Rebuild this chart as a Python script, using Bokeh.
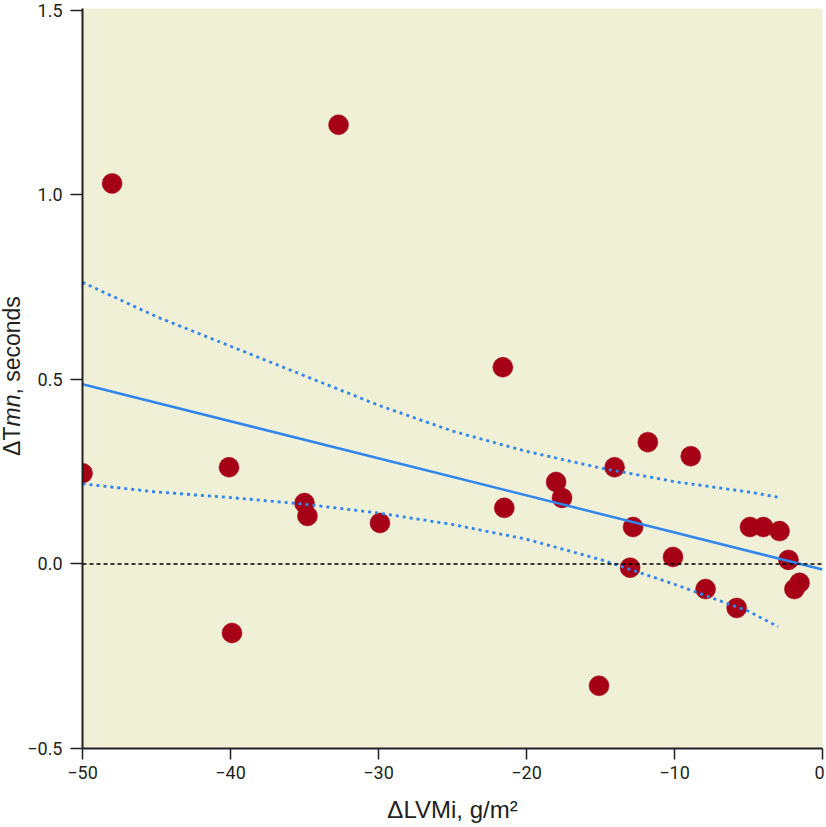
import math
from bokeh.plotting import figure
from bokeh.layouts import row
from bokeh.models import Span, FixedTicker
from bokeh.core.properties import value
from bokeh.embed import file_html
from bokeh.resources import INLINE

# ---- data ----
lvmi = [-50.0, -48.0, -32.7, -40.1, -39.9, -35.0, -34.8, -29.9, -21.6, -21.5,
        -18.0, -17.6, -14.05, -15.1, -11.8, -12.8, -13.0, -8.9, -10.1, -7.9,
        -5.8, -4.9, -4.0, -2.9, -2.3, -1.55, -1.9]
tmn = [0.246, 1.031, 1.19, 0.262, -0.187, 0.165, 0.130, 0.111, 0.533, 0.152,
       0.222, 0.179, 0.262, -0.330, 0.330, 0.100, -0.010, 0.292, 0.019, -0.068,
       -0.119, 0.100, 0.100, 0.089, 0.011, -0.051, -0.068]

fit_x = [-50, 0]
fit_y = [0.487, -0.015]

band_x = [-50, -45, -40, -35, -30, -25, -20, -15, -10, -5, -3]
band_upper = [0.763, 0.67, 0.59, 0.51, 0.43, 0.36, 0.305, 0.26, 0.223, 0.195, 0.181]
band_lower = [0.217, 0.195, 0.180, 0.162, 0.138, 0.107, 0.067, 0.012, -0.055, -0.128, -0.170]

x_ticks = [-50, -40, -30, -20, -10, 0]
x_tick_labels = ["\u221250", "\u221240", "\u221230", "\u221220", "\u221210", "0"]
y_ticks = [-0.5, 0.0, 0.5, 1.0, 1.5]
y_tick_labels = ["\u22120.5", "0.0", "0.5", "1.0", "1.5"]

x_title = "\u0394LVMi, g/m\u00b2"
y_title_parts = ["\u0394T", "mn", ", seconds"]
y_title_styles = ["normal", "italic", "normal"]

# ---- styling ----
BG = "#EFF0D6"
DOT = "#A50016"
BLUE = "#2F86F0"
AXIS = "#231F20"
TICK_FONT = "Roboto"
LABEL_FONT = "Liberation Sans"
H = 825
TITLE_W = 24
TOP, BOTTOM = 8, H - 749

p = figure(width=800, height=H, x_range=(-50, 0), y_range=(-0.5, 1.505),
           output_backend="svg", toolbar_location=None,
           min_border_left=82 - TITLE_W, min_border_right=2,
           min_border_top=TOP, min_border_bottom=BOTTOM)
p.background_fill_color = BG
p.border_fill_color = "white"
p.outline_line_color = None
p.grid.visible = False

p.scatter(lvmi, tmn, size=20, fill_color=DOT, line_color=DOT, line_width=0.5)

p.line(fit_x, fit_y, line_color=BLUE, line_width=2.5)
p.line(band_x, band_upper, line_color=BLUE, line_width=2.8, line_dash="3 4")
p.line(band_x, band_lower, line_color=BLUE, line_width=2.8, line_dash="3 4")

p.add_layout(Span(location=0, dimension="width", line_color="black",
                  line_width=1.5, line_dash="4 3"))

for ax, ticks, labels in ((p.xaxis[0], x_ticks, x_tick_labels),
                          (p.yaxis[0], y_ticks, y_tick_labels)):
    ax.ticker = FixedTicker(ticks=ticks)
    ax.major_label_overrides = {t: l for t, l in zip(ticks, labels)}
    ax.minor_tick_line_color = None
    ax.axis_line_color = AXIS
    ax.axis_line_width = 2
    ax.major_tick_line_color = AXIS
    ax.major_tick_line_width = 1.5
    ax.major_tick_in = 0
    ax.major_label_text_font = TICK_FONT
    ax.major_label_text_font_size = "18px"
    ax.major_label_text_color = AXIS

p.xaxis.major_tick_out = 11
p.yaxis.major_tick_out = 12
p.xaxis.major_label_standoff = 6
p.yaxis.major_label_standoff = 8

p.xaxis.axis_label = x_title
p.xaxis.axis_label_text_font = LABEL_FONT
p.xaxis.axis_label_text_font_size = "24px"
p.xaxis.axis_label_text_font_style = "normal"
p.xaxis.axis_label_text_color = AXIS
p.xaxis.axis_label_standoff = 14

# ---- narrow strip on the left holding the y title (italic "mn") ----
# its frame lines up with the main frame (page y 8..749); 1 data unit = 1 px
FRAME_H = H - TOP - BOTTOM
t = figure(width=TITLE_W, height=H, x_range=(0, TITLE_W), y_range=(0, FRAME_H),
           x_axis_type=None, y_axis_type=None, title=None,
           output_backend="svg", toolbar_location=None,
           min_border_left=0, min_border_right=0,
           min_border_top=TOP, min_border_bottom=BOTTOM)
t.grid.visible = False
t.outline_line_color = None
t.background_fill_color = "white"
t.border_fill_color = "white"

fs = 23
piece_w = [1.279 * fs, 1.389 * fs, 4.28 * fs]
y0 = 749 - 456          # where the title starts (page y 456)
for part, st, w in zip(y_title_parts, y_title_styles, piece_w):
    t.text(x=[11], y=[y0], text=[part], angle=math.pi / 2,
           text_align="left", text_baseline="middle",
           text_font=value(LABEL_FONT), text_font_size=f"{fs}px",
           text_font_style=st, text_color=AXIS)
    y0 += w

layout = row(t, p, spacing=0)
open("out.html", "w").write(file_html(layout, INLINE))
